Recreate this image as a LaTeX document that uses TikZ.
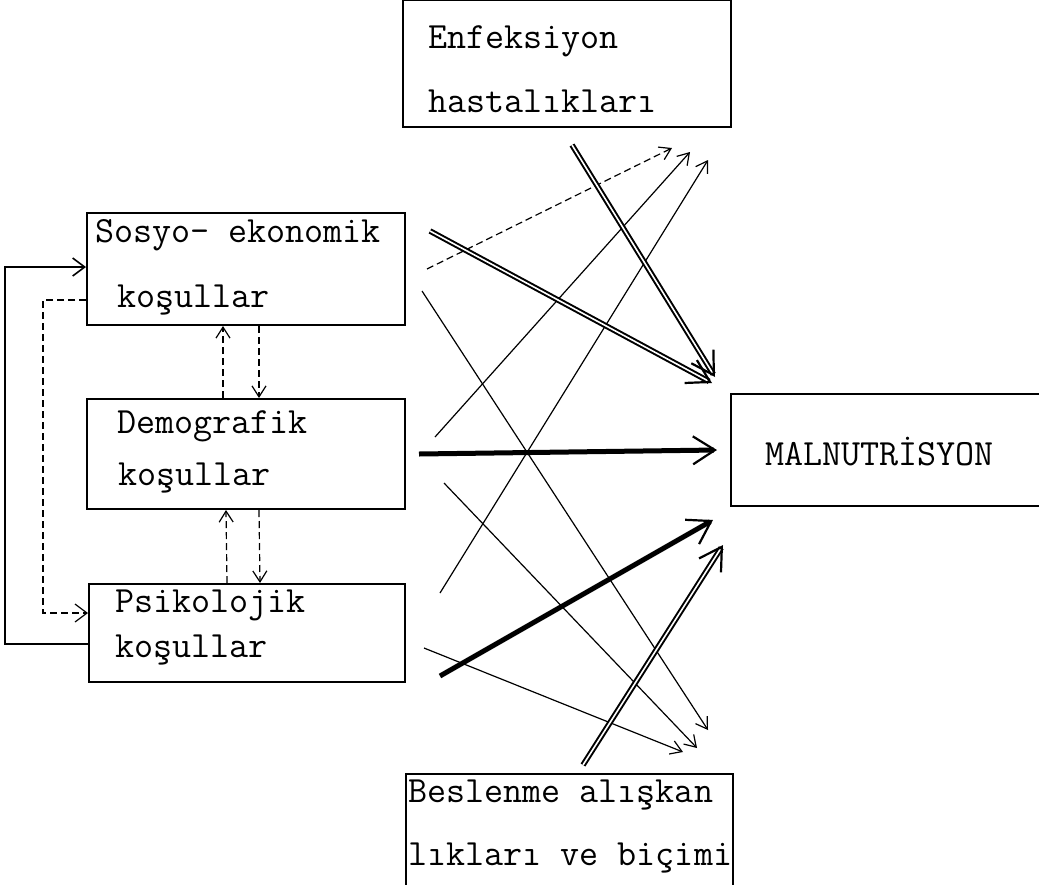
\documentclass[tikz,border=0pt]{standalone}
\usetikzlibrary{arrows.meta}
\begin{document}
\begin{tikzpicture}[x=1pt,y=-1pt,
  box/.style={draw,line width=2pt,rectangle,inner sep=0pt,anchor=north west},
  lbl/.style={font=\ttfamily\fontsize{37}{39}\selectfont,anchor=base west,inner sep=0pt},
  thinar/.style={line width=1.2pt,-{Straight Barb[length=11pt,width=14pt]}},
  dsh/.style={dash pattern=on 7pt off 4pt},
  fb/.style={line width=1.6pt,-{Straight Barb[length=12pt,width=18pt]}},
  dbl/.style={double,double distance=1.6pt,line width=2pt,-{Straight Barb[length=22pt,width=26pt,line width=2.2pt]}},
  thk/.style={line width=5pt,-{Straight Barb[length=22pt,width=28pt,line width=2.2pt]}}]
\clip (0,0) rectangle (1039,884);
% boxes
\node[box,minimum width=318pt,minimum height=112pt] (sos) at (86,212) {};
\node[box,minimum width=318pt,minimum height=110pt] (dem) at (86,398) {};
\node[box,minimum width=316pt,minimum height=98pt] (psi) at (88,583) {};
\node[box,minimum width=328pt,minimum height=127pt] (enf) at (402,-1) {};
\node[box,minimum width=330pt,minimum height=112pt] (mal) at (730,393) {};
\node[box,minimum width=327pt,minimum height=120pt] (bes) at (405,773) {};
% texts
\node[lbl] (t1) at (95,242) {Sosyo- ekonomik};
\node[lbl] (t2) at (117,307) {koşullar};
\node[lbl] (t3) at (117,433) {Demografik};
\node[lbl] (t4) at (118,485) {koşullar};
\node[lbl] (t5) at (115,612) {Psikolojik};
\node[lbl] (t6) at (115,657) {koşullar};
\node[lbl] (t7) at (428,48) {Enfeksiyon};
\node[lbl] (t8) at (428,112) {hastalıkları};
\node[lbl] (t9) at (765,465) {MALNUTRİSYON};
\node[lbl] (t10) at (408,802) {Beslenme alışkan};
\node[lbl] (t11) at (408,865) {lıkları ve biçimi};
% free ends
\coordinate (e1) at (672,148);
\coordinate (e2) at (690,152);
\coordinate (e3) at (708,160);
\coordinate (b1) at (708,730);
\coordinate (b2) at (697,748);
\coordinate (b3) at (683,752);
% feedback loops
\draw[fb] ([yshift=-11pt]psi.west) -- ++(-83,0) |- ([yshift=2pt]sos.west);
\draw[fb,dsh,line width=1.2pt] ([yshift=-31pt]sos.west) -- ++(-43,0) |- ([yshift=20pt]psi.west);
% vertical arrows
\draw[thinar,dsh] ([xshift=-23pt]dem.north) -- ([xshift=-23pt]sos.south);
\draw[thinar,dsh] ([xshift=13pt]sos.south) -- ([xshift=13pt]dem.north);
\draw[thinar,dsh] ([xshift=-20pt]psi.north) -- ([xshift=-20pt]dem.south);
\draw[thinar,dsh] ([xshift=13pt]dem.south) -- ([xshift=13pt]psi.north);
% thin diagonals
\draw[thinar,dsh] ([xshift=21pt]sos.east) -- (e1);
\draw[thinar] ([shift={(29pt,17pt)}]dem.east) -- (e2);
\draw[thinar] ([shift={(34pt,-10pt)}]psi.north east) -- (e3);
\draw[thinar] ([shift={(16pt,-22pt)}]sos.east) -- (b1);
\draw[thinar] ([shift={(38pt,-29pt)}]dem.east) -- (b2);
\draw[thinar] ([shift={(18pt,-15pt)}]psi.east) -- (b3);
% thick arrows to MALNUTRISYON
\draw[dbl] ([shift={(24pt,38pt)}]sos.east) -- ([shift={(-18pt,10pt)}]mal.north west);
\draw[dbl] ([shift={(170pt,-17pt)}]enf.south west) -- ([shift={(-15pt,16pt)}]mal.north west);
\draw[thk] ([xshift=13pt]dem.east) -- ([xshift=-13pt]mal.west);
\draw[thk] ([shift={(34pt,-43pt)}]psi.east) -- ([shift={(-17pt,-13pt)}]mal.south west);
\draw[dbl] ([shift={(178pt,8pt)}]bes.north west) -- ([shift={(-7pt,-38pt)}]mal.south west);
\end{tikzpicture}
\end{document}
